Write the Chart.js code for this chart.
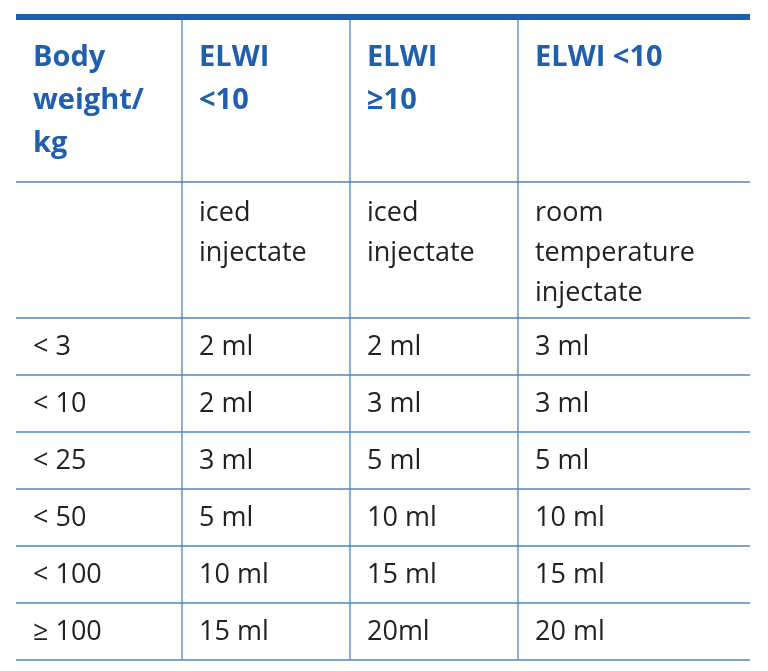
<!DOCTYPE html>
<html><head><meta charset="utf-8">
<script src="https://cdn.jsdelivr.net/npm/chart.js@4"></script>
<style>html,body{margin:0;padding:0;background:#fff}</style>
</head><body>
<canvas id="c" width="768" height="671"></canvas>
<script>
const headers = [["Body","weight/","kg"],["ELWI","<10"],["ELWI","≥10"],["ELWI <10"]];
const subheaders = [[],["iced","injectate"],["iced","injectate"],["room","temperature","injectate"]];
const weights = ["< 3","< 10","< 25","< 50","< 100","≥ 100"];
const col1 = ["2 ml","2 ml","3 ml","5 ml","10 ml","15 ml"];
const col2 = ["2 ml","3 ml","5 ml","10 ml","15 ml","20ml"];
const col3 = ["3 ml","3 ml","5 ml","10 ml","15 ml","20 ml"];

const BLUE = "#1f5fae", LINE = "#4f86c6", TXT = "#222";
const colEdges = [0,166,334,502,734];
const rowEdges = [6,168,304,361,418,475,532,589,646];

const tablePlugin = {
  id:'table',
  afterDraw(chart){
    const {ctx, scales:{x,y}} = chart;
    const X = v=>x.getPixelForValue(v), Y = v=>y.getPixelForValue(v);
    ctx.save();
    ctx.fillStyle = BLUE;
    ctx.fillRect(X(0), Y(0), X(734)-X(0), Y(6)-Y(0));
    ctx.strokeStyle = LINE; ctx.lineWidth = 1.3;
    for (let i=1;i<rowEdges.length;i++){ ctx.beginPath(); ctx.moveTo(X(0),Y(rowEdges[i])); ctx.lineTo(X(734),Y(rowEdges[i])); ctx.stroke(); }
    for (let i=1;i<colEdges.length-1;i++){ ctx.beginPath(); ctx.moveTo(X(colEdges[i]),Y(6)); ctx.lineTo(X(colEdges[i]),Y(646)); ctx.stroke(); }
    ctx.textBaseline = "middle"; ctx.textAlign = "left";
    ctx.fillStyle = BLUE; ctx.font = "bold 29px 'Open Sans'";
    headers.forEach((h,c)=>h.forEach((t,i)=>ctx.fillText(t, X(colEdges[c]+17), Y(44+i*43))));
    ctx.fillStyle = TXT; ctx.font = "27px 'Open Sans'";
    subheaders.forEach((h,c)=>h.forEach((t,i)=>ctx.fillText(t, X(colEdges[c]+17), Y(199+i*40))));
    const cols = [weights,col1,col2,col3];
    cols.forEach((arr,c)=>arr.forEach((t,r)=>{
      const yc = (rowEdges[r+2]+rowEdges[r+3])/2;
      ctx.fillText(t, X(colEdges[c]+17), Y(yc+1));
    }));
    ctx.restore();
  }
};

new Chart(document.getElementById('c'), {
  type:'scatter',
  data:{datasets:[{data:[],showLine:false}]},
  options:{
    responsive:false, animation:false,
    layout:{padding:{left:16,right:18,top:14,bottom:11}},
    plugins:{legend:{display:false},tooltip:{enabled:false}},
    scales:{
      x:{type:'linear',min:0,max:734,display:false},
      y:{type:'linear',min:0,max:646,reverse:true,display:false}
    }
  },
  plugins:[tablePlugin]
});
</script>
</body></html>
